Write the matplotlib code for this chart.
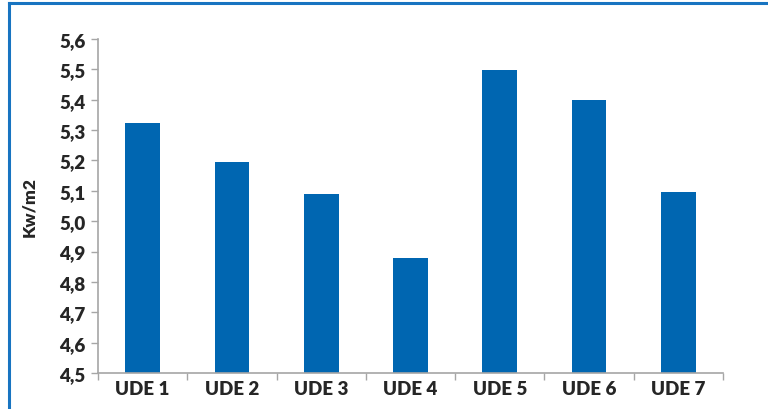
import numpy as np
import matplotlib.pyplot as plt
from matplotlib.lines import Line2D

categories = ["UDE 1", "UDE 2", "UDE 3", "UDE 4", "UDE 5", "UDE 6", "UDE 7"]
values = [5.323, 5.195, 5.088, 4.879, 5.498, 5.399, 5.096]
yticks = [4.5, 4.6, 4.7, 4.8, 4.9, 5.0, 5.1, 5.2, 5.3, 5.4, 5.5, 5.6]

plt.rcParams['font.family'] = ['Lato', 'DejaVu Sans']

fig = plt.figure(figsize=(7.68, 4.10), dpi=100)
ax = fig.add_axes([0.1276, 0.0878, 0.8138, 0.8146])

x = np.arange(len(categories))
ax.bar(x, values, width=0.39, color='#0066b1', zorder=2)

ax.set_xlim(-0.5, len(categories) - 0.5)
ax.set_ylim(4.5, 5.6)
ax.set_yticks(yticks)
ax.set_yticklabels([f"{v:.1f}".replace('.', ',') for v in yticks],
                   fontsize=13.5, fontweight='heavy', color='#262626')

# category labels centred, tick marks on the boundaries
ax.set_xticks(np.arange(-0.5, len(categories), 1.0))
ax.set_xticklabels([])
ax.set_xticks(x, minor=True)
ax.set_xticklabels(categories, minor=True, fontsize=13.5, fontweight='heavy', color='#262626')
ax.tick_params(axis='x', which='minor', length=0, pad=5)
ax.tick_params(axis='x', which='major', length=5, color='#a6a6a6', width=1)
ax.tick_params(axis='y', length=5, color='#a6a6a6', width=1, pad=4)

for s in ['top', 'right']:
    ax.spines[s].set_visible(False)
for s in ['left', 'bottom']:
    ax.spines[s].set_color('#a6a6a6')
    ax.spines[s].set_linewidth(1.2)

ax.set_ylabel("Kw/m2", fontsize=12.5, fontweight='heavy', color='#262626', labelpad=16)

# blue frame on top and left of the figure
fig.add_artist(Line2D([9 / 768, 1.0], [1 - 4 / 410, 1 - 4 / 410], color='#1874c1', lw=2.2,
                      transform=fig.transFigure))
fig.add_artist(Line2D([9 / 768, 9 / 768], [0.0, 1 - 4 / 410], color='#1874c1', lw=2.2,
                      transform=fig.transFigure))

fig.savefig('out.png', dpi=100)
